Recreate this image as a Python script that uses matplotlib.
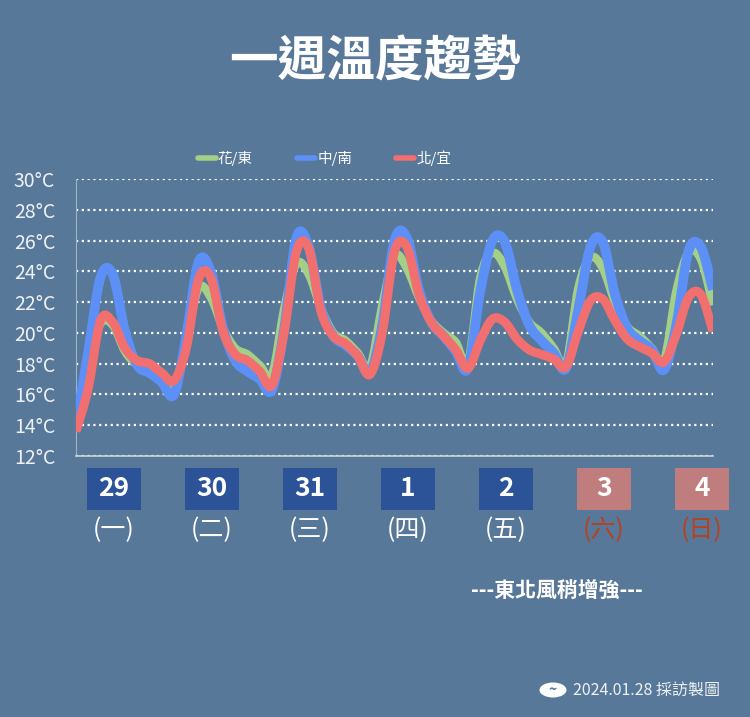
import matplotlib.pyplot as plt
import matplotlib.transforms as mtransforms
from matplotlib.patches import Rectangle, Ellipse, PathPatch
from matplotlib.path import Path
from matplotlib.lines import Line2D
import numpy as np

plt.rcParams['font.family'] = ['Noto Sans CJK TC', 'DejaVu Sans']

BG = '#577898'
C_GREEN = '#a4cf86'
C_BLUE = '#5c90f7'
C_RED = '#f26f70'

# 3-hourly readings, starting 29th 06:00
hours = np.arange(0, 157, 3)

hua_dong = [14.6, 17.8, 20.6, 20.5, 18.8, 17.9, 17.5, 17.1, 16.4,
            19.5, 22.9, 22.3, 20.3, 19.0, 18.6, 17.9, 17.3,
            21.6, 24.5, 23.8, 21.6, 20.0, 19.5, 18.7, 17.8,
            21.8, 25.0, 24.2, 22.3, 20.8, 20.0, 19.4, 18.1,
            23.6, 25.2, 24.3, 22.2, 20.7, 20.0, 19.0, 18.0,
            22.9, 24.9, 24.2, 22.0, 20.4, 19.8, 19.0, 18.2,
            22.7, 25.2, 24.8, 21.8]
zhong_nan = [14.0, 18.8, 23.6, 23.8, 20.1, 17.9, 17.4, 16.8, 16.0,
             19.8, 24.6, 24.0, 20.3, 18.2, 17.5, 17.0, 16.3,
             20.3, 26.2, 25.6, 21.6, 19.8, 19.2, 18.5, 17.4,
             20.5, 26.0, 26.2, 22.8, 20.7, 19.8, 18.8, 17.7,
             22.7, 26.0, 25.9, 22.8, 20.5, 19.5, 18.7, 17.7,
             21.5, 25.6, 25.9, 22.5, 20.3, 19.5, 18.9, 17.6,
             20.5, 25.3, 25.6, 22.8]
bei_yi = [13.6, 16.4, 20.8, 20.7, 19.0, 18.2, 18.0, 17.4, 16.9,
          19.0, 23.5, 23.6, 20.1, 18.6, 18.2, 17.5, 16.6,
          20.1, 25.3, 25.5, 21.4, 19.8, 19.3, 18.5, 17.3,
          20.0, 25.3, 25.6, 22.5, 20.7, 19.8, 18.9, 17.7,
          19.5, 20.9, 20.7, 19.6, 18.9, 18.6, 18.3, 17.8,
          20.1, 22.1, 22.2, 20.8, 19.6, 19.1, 18.7, 18.1,
          19.9, 22.3, 22.5, 20.1]

series_names = ['花/東', '中/南', '北/宜']
dates = ['29', '30', '31', '1', '2', '3', '4']
weekdays = ['(一)', '(二)', '(三)', '(四)', '(五)', '(六)', '(日)']
weekend = [False, False, False, False, False, True, True]
yticks = list(range(12, 31, 2))


def smooth_path(x, y):
    # Bezier path through the points (like a spreadsheet "smoothed line")
    p = np.column_stack([x, y]).astype(float)
    n = len(p)
    verts = [p[0]]
    codes = [Path.MOVETO]
    for i in range(n - 1):
        p0 = p[i - 1] if i > 0 else p[i]
        p3 = p[i + 2] if i + 2 < n else p[i + 1]
        c1 = p[i] + (p[i + 1] - p0) / 6
        c2 = p[i + 1] - (p3 - p[i]) / 6
        verts += [c1, c2, p[i + 1]]
        codes += [Path.CURVE4] * 3
    return Path(verts, codes)


fig = plt.figure(figsize=(7.5, 7.17), dpi=100, facecolor=BG)
ax = fig.add_axes([76 / 750, 1 - 456 / 717, 637 / 750, 277 / 717])
ax.set_facecolor(BG)

for vals, col, lw, z in [(hua_dong, C_GREEN, 6.0, 3),
                         (zhong_nan, C_BLUE, 7.0, 4),
                         (bei_yi, C_RED, 6.5, 5)]:
    ax.add_patch(PathPatch(smooth_path(hours, vals), facecolor='none',
                           edgecolor=col, lw=lw, capstyle='butt',
                           joinstyle='round', zorder=z))

ax.set_xlim(0, 156)
ax.set_ylim(12, 30)
ax.set_yticks(yticks)
ax.set_yticklabels([f'{t}°C' for t in yticks], color='#eef2f6', fontsize=14)
ax.tick_params(axis='y', length=0, pad=15)
ax.set_xticks([])
ax.yaxis.grid(True, color='white', linestyle=(0, (1, 1.6)), lw=1.6)
ax.set_axisbelow(True)
for s in ['top', 'right']:
    ax.spines[s].set_visible(False)
ax.spines['left'].set_color('#9fb3c8')
ax.spines['left'].set_linewidth(0.8)
ax.spines['bottom'].set_color('#c9d2dc')
ax.spines['bottom'].set_linewidth(1.2)

# legend
handles = [Line2D([], [], color=c, lw=4, solid_capstyle='round')
           for c in (C_GREEN, C_BLUE, C_RED)]
leg = ax.legend(handles, series_names, loc='center', ncol=3,
                bbox_to_anchor=(0.39, 1.075), frameon=False, fontsize=10.5,
                handlelength=1.25, handletextpad=0.15, columnspacing=3.0)
for t in leg.get_texts():
    t.set_color('white')

# title
fig.text(0.5, 1 - 62 / 717, '一週溫度趨勢', ha='center', va='center',
         color='white', fontsize=35, fontweight='bold')

# date boxes
trans = mtransforms.blended_transform_factory(ax.transData, fig.transFigure)
for i, (d, w, we) in enumerate(zip(dates, weekdays, weekend)):
    xc = 24 * i + 9.3
    box_col = '#c07d7d' if we else '#2c5398'
    ax.add_patch(Rectangle((xc - 6.6, 1 - 510 / 717), 13.2, 42 / 717,
                           transform=trans, facecolor=box_col,
                           edgecolor='none', clip_on=False))
    ax.text(xc, 1 - 489 / 717, d, transform=trans, ha='center', va='center',
            color='white', fontsize=19, fontweight='bold')
    ax.text(xc, 1 - 530 / 717, w, transform=trans, ha='center', va='center',
            color='#b8401f' if we else 'white', fontsize=18)

fig.text(557 / 750, 1 - 590 / 717, '---東北風稍增強---', ha='center',
         va='center', color='white', fontsize=15, fontweight='bold')

# footer
fig.add_artist(Ellipse((553 / 750, 1 - 690 / 717), 27 / 750, 15 / 717,
                       transform=fig.transFigure, facecolor='white',
                       edgecolor='none'))
fig.text(553 / 750, 1 - 690 / 717, '~', ha='center', va='center',
         color=BG, fontsize=10, fontweight='bold')
fig.text(573 / 750, 1 - 690 / 717, '2024.01.28 採訪製圖', ha='left',
         va='center', color='#eef2f6', fontsize=11.5)

fig.savefig('out.png', dpi=100, facecolor=BG)
